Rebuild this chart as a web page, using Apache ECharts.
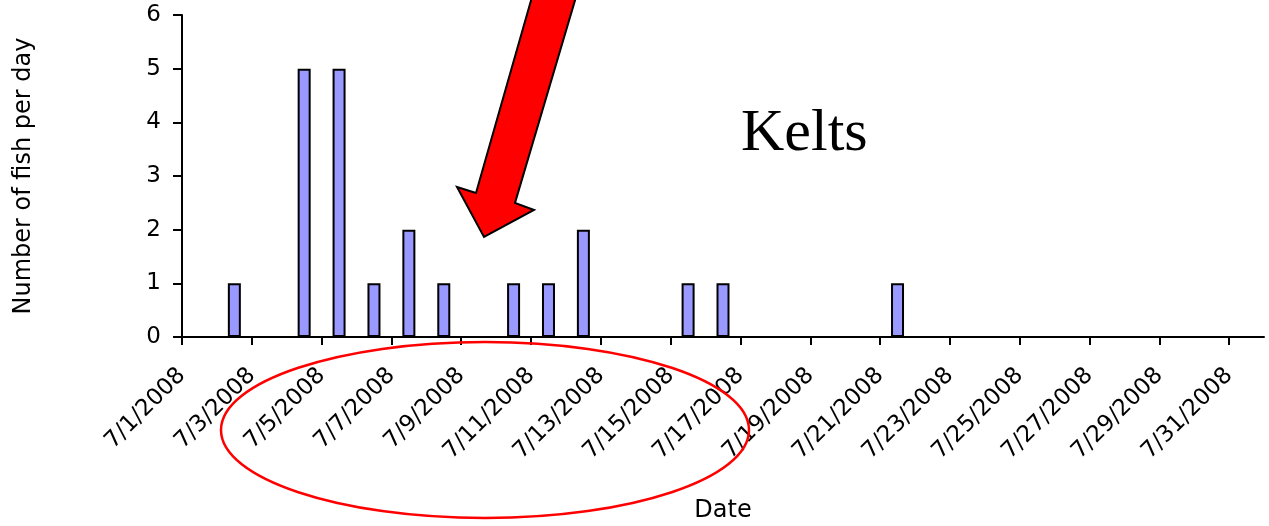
<!DOCTYPE html>
<html>
<head>
<meta charset="utf-8">
<script src="https://cdn.jsdelivr.net/npm/echarts@6/dist/echarts.min.js"></script>
<style>
  html, body { margin: 0; padding: 0; background: #fff; }
  #chart { width: 1269px; height: 526px; }
</style>
</head>
<body>
<div id="chart"></div>
<script>
// Daily kelt counts for July 2008 (day of month -> fish counted)
const fishDays   = [2, 4, 5, 6, 7, 8, 10, 11, 12, 15, 16, 21];
const fishCounts = [1, 5, 5, 1, 2, 1, 1, 1, 2, 1, 1, 1];

// Date tick labels, every second day
const dateTicks = ['7/1/2008', '7/3/2008', '7/5/2008', '7/7/2008', '7/9/2008',
  '7/11/2008', '7/13/2008', '7/15/2008', '7/17/2008', '7/19/2008', '7/21/2008',
  '7/23/2008', '7/25/2008', '7/27/2008', '7/29/2008', '7/31/2008'];
const yTicks = [0, 1, 2, 3, 4, 5, 6];

const DAYS_IN_MONTH = 31;
// each day occupies one unit slot on the x axis; bars sit in the middle of their slot
const barData = fishDays.map((d, i) => [d - 1 + 0.5, fishCounts[i]]);
const tickPositions = dateTicks.map((_, i) => i * 2);

const chart = echarts.init(document.getElementById('chart'), null, { renderer: 'canvas' });
const axisFont = 'DejaVu Sans';

chart.setOption({
  animation: false,
  backgroundColor: '#ffffff',
  grid: { left: 182, right: 5, top: 15, bottom: 189, containLabel: false, outerBoundsMode: 'none' },
  xAxis: {
    type: 'value',
    min: 0,
    max: DAYS_IN_MONTH,
    interval: 2,
    name: 'Date',
    nameLocation: 'middle',
    nameGap: 162,
    nameTextStyle: { color: '#000', fontSize: 24, fontFamily: axisFont },
    axisLine: { show: true, onZero: false, lineStyle: { color: '#000', width: 2 } },
    axisTick: { show: true, length: 8, lineStyle: { color: '#000', width: 2 }, customValues: tickPositions },
    axisLabel: {
      customValues: tickPositions,
      rotate: 45,
      margin: 35,
      color: '#000',
      fontSize: 23,
      fontFamily: axisFont,
      formatter: v => dateTicks[Math.round(v / 2)] || ''
    },
    splitLine: { show: false }
  },
  yAxis: {
    type: 'value',
    min: 0,
    max: 6,
    interval: 1,
    name: 'Number of fish per day',
    nameLocation: 'middle',
    nameRotate: 90,
    nameGap: 146,
    nameTextStyle: { color: '#000', fontSize: 24, fontFamily: axisFont },
    axisLine: { show: true, lineStyle: { color: '#000', width: 2 } },
    axisTick: { show: true, length: 9, lineStyle: { color: '#000', width: 2 } },
    axisLabel: {
      margin: 21,
      color: '#000',
      fontSize: 23,
      fontFamily: axisFont,
      formatter: v => String(yTicks[v])
    },
    splitLine: { show: false }
  },
  series: [{
    type: 'bar',
    data: barData,
    barWidth: 13,
    itemStyle: { color: '#9999ff', borderColor: '#000', borderWidth: 2 }
  }],
  graphic: [
    {
      type: 'text',
      left: 741,
      top: 104,
      style: { text: 'Kelts', font: '60px "Liberation Serif"', fill: '#000' }
    },
    {
      type: 'polygon',
      z: 100,
      shape: {
        points: [[532, -3], [576, -3], [515, 203], [534, 210], [484, 237], [457, 187], [476, 193]]
      },
      style: { fill: '#ff0000', stroke: '#000', lineWidth: 2, lineJoin: 'miter' }
    },
    {
      type: 'ellipse',
      z: 100,
      shape: { cx: 485, cy: 430, rx: 264, ry: 88 },
      style: { fill: null, stroke: '#ff0000', lineWidth: 2.5 }
    }
  ]
});
</script>
</body>
</html>
